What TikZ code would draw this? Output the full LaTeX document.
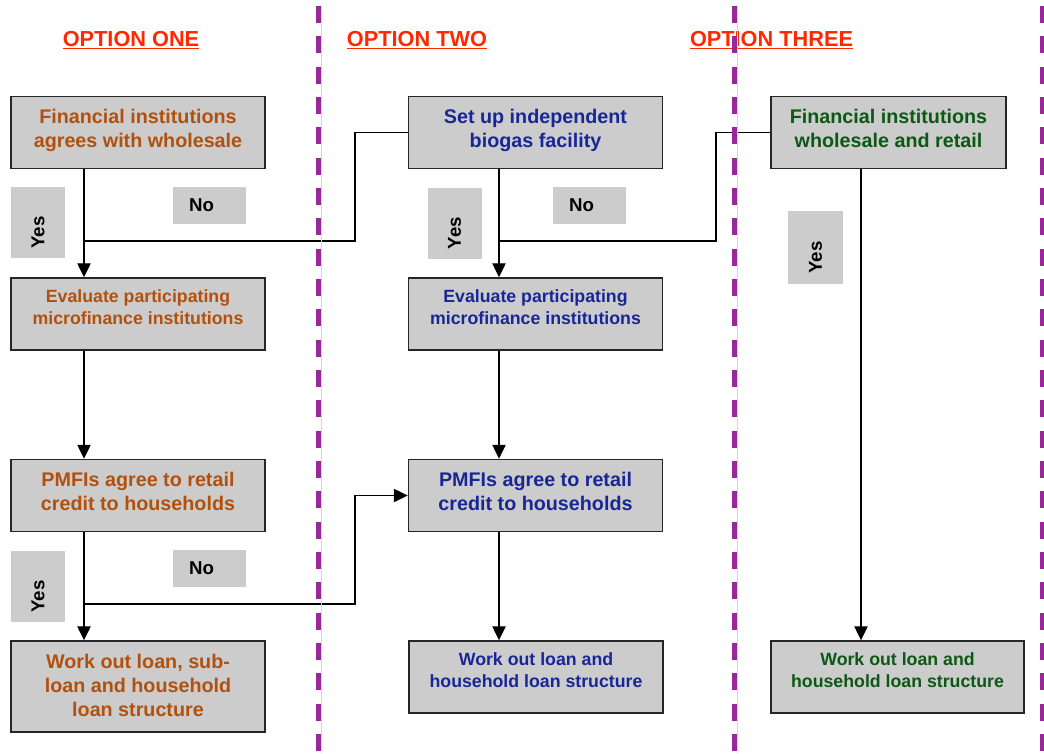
\documentclass[tikz,border=0pt]{standalone}
\usepackage{fontspec}
\setmainfont{Liberation Sans}
\usetikzlibrary{arrows.meta}
\definecolor{orng}{RGB}{178,80,14}
\definecolor{blu}{RGB}{24,38,150}
\definecolor{grn}{RGB}{12,88,20}
\definecolor{hred}{RGB}{255,40,0}
\definecolor{boxgray}{RGB}{204,204,204}
\definecolor{purp}{RGB}{153,39,153}
\definecolor{pinkl}{RGB}{232,200,232}
\begin{document}
\begin{tikzpicture}[x=0.75pt,y=-0.75pt,
  box/.style={draw=black!85, line width=1.1pt, fill=boxgray, align=center, inner sep=0pt,
    minimum width=190.5pt, minimum height=54pt, text depth=5.6pt,
    font=\bfseries\fontsize{14.8}{18}\selectfont},
  sbox/.style={box, text depth=9.7pt, font=\bfseries\fontsize{13.3}{16.5}\selectfont},
  lab/.style={fill=boxgray, inner sep=0pt, font=\bfseries\fontsize{14}{16}\selectfont},
  yeslab/.style={lab, rotate=90, minimum width=53.25pt, minimum height=40.5pt},
  nolab/.style={lab, minimum width=54.75pt, minimum height=27.75pt},
  hdr/.style={text=hred, inner sep=0pt, font=\bfseries\fontsize{16.3}{18}\selectfont},
  ln/.style={line width=0.95pt},
  arr/.style={ln, -{Triangle[width=10pt,length=10.5pt]}},
  sep/.style={purp, line width=3.4pt, dash pattern=on 12.75pt off 10pt},
  septhin/.style={pinkl, line width=1.1pt}
]
\useasboundingbox (0,0) rectangle (1044,753);

% headers
\node[hdr, anchor=base] (h1) at (131,46) {\underline{OPTION ONE}};
\node[hdr, anchor=base] (h2) at (417,46) {\underline{OPTION TWO}};
\node[hdr, anchor=base] (h3) at (771.5,46) {\underline{OPTION THREE}};

% column one
\node[box, text=orng] (A1) at (138,132.5) {Financial institutions\\agrees with wholesale};
\node[sbox, text=orng] (A2) at (138,314) {Evaluate participating\\microfinance institutions};
\node[box, text=orng] (A3) at (138,495.5) {PMFIs agree to retail\\credit to households};
\node[box, text=orng, minimum height=68.25pt, text depth=1.5pt] (A4) at (138,686.5) {Work out loan, sub-\\loan and household\\loan structure};

% column two
\node[box, text=blu] (B1) at (535.5,132.5) {Set up independent\\biogas facility};
\node[sbox, text=blu] (B2) at (535.5,314) {Evaluate participating\\microfinance institutions};
\node[box, text=blu] (B3) at (535.5,495.5) {PMFIs agree to retail\\credit to households};
\node[sbox, text=blu] (B4) at (536,677) {Work out loan and\\household loan structure};

% column three
\node[box, text=grn, minimum width=176.25pt] (C1) at (888.5,132.5) {Financial institutions\\wholesale and retail};
\node[sbox, text=grn, minimum width=189.75pt] (C4) at (897.5,677) {Work out loan and\\household loan structure};

% yes / no labels
\node[yeslab] (y1) at (38,222.5) {Yes\kern15pt};
\node[yeslab] (y2) at (38,586.5) {Yes\kern15pt};
\node[yeslab] (y3) at (454.5,223) {Yes\kern15pt};
\node[yeslab, minimum width=54.75pt, minimum height=41.25pt] (y4) at (815.5,247.5) {Yes\kern15pt};
\node[nolab] (n1) at (209.5,205.5) {No\kern12pt};
\node[nolab] (n2) at (589.5,205.5) {No\kern12pt};
\node[nolab] (n3) at (209.5,568.5) {No\kern12pt};

% trunk coordinates
\coordinate (tA) at (84,0);
\coordinate (tB) at (499,0);
\coordinate (tC) at (861,0);
\coordinate (j1) at (84,241);
\coordinate (k1) at (355,241);
\coordinate (j2) at (499,241);
\coordinate (k2) at (716,241);
\coordinate (j3) at (84,604);
\coordinate (k3) at (355,604);

% connectors
\draw[arr] (A1.south -| tA) -- (A2.north -| tA);
\draw[arr] (A2.south -| tA) -- (A3.north -| tA);
\draw[arr] (A3.south -| tA) -- (A4.north -| tA);
\draw[arr] (B1.south -| tB) -- (B2.north -| tB);
\draw[arr] (B2.south -| tB) -- (B3.north -| tB);
\draw[arr] (B3.south -| tB) -- (B4.north -| tB);
\draw[arr] (C1.south -| tC) -- (C4.north -| tC);
\draw[ln] (B1.west) -| (k1) -- (j1);
\draw[ln] (C1.west) -| (k2) -- (j2);
\draw[arr] (j3) -- (k3) |- (B3.west);

% separators
\draw[septhin] (321.5,6) -- (321.5,753);
\draw[septhin] (737.5,6) -- (737.5,753);
\draw[sep] (318.5,6) -- (318.5,753);
\draw[sep] (734.5,6) -- (734.5,753);
\draw[sep] (1042,6) -- (1042,753);
\end{tikzpicture}
\end{document}
